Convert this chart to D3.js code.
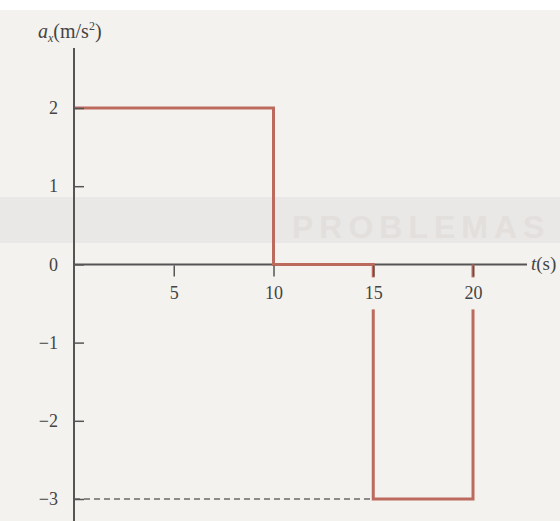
<!DOCTYPE html>
<html>
<head>
<meta charset="utf-8">
<script src="https://cdn.jsdelivr.net/npm/d3@7"></script>
<style>
  html, body { margin: 0; padding: 0; background: #ffffff; }
  svg { display: block; }
  text { font-family: "Liberation Serif", "DejaVu Serif", serif; fill: #444; }
</style>
</head>
<body>
<div id="chart"></div>
<script>
// Acceleration a_x(t): piecewise constant, level holds from each time to the next
const stepTimes  = [0, 10, 15, 20];
const stepValues = [2, 0, -3, 0];

// Axis ticks and labels
const xTicks = [5, 10, 15, 20];
const yTicks = [2, 1, 0, -1, -2, -3];
const yTickLabels = ["2", "1", "0", "\u22121", "\u22122", "\u22123"];

// Reference level marked with a dashed guide
const guideValue = -3;
const guideEnd = 15;

const W = 560, H = 521;
const pageColor = "#f4f2ef";

const svg = d3.select("#chart").append("svg")
  .attr("width", W).attr("height", H);

// page background
svg.append("rect").attr("x", 0).attr("y", 10).attr("width", W).attr("height", H - 10)
  .attr("fill", pageColor);
svg.append("rect").attr("x", 0).attr("y", 197).attr("width", W).attr("height", 46)
  .attr("fill", "#eae8e6");
svg.append("text").attr("x", 292).attr("y", 238)
  .style("font-family", "Liberation Sans, sans-serif").style("font-weight", "bold")
  .style("font-size", "32px").style("letter-spacing", "6px").style("fill", "#e2dfdd")
  .text("PROBLEMAS");

const x = d3.scaleLinear().domain([0, 20]).range([74, 473]);
const y = d3.scaleLinear().domain([-3, 2]).range([499, 108]);

const axisColor = "#555";

// dashed guide at a = -3
svg.append("line")
  .attr("x1", x(0)).attr("x2", x(guideEnd))
  .attr("y1", y(guideValue)).attr("y2", y(guideValue))
  .attr("stroke", "#6a6a6a").attr("stroke-width", 1.5)
  .attr("stroke-dasharray", "6,4");

// horizontal axis line (under the curve)
svg.append("line").attr("x1", x(0)).attr("x2", 527).attr("y1", y(0)).attr("y2", y(0))
  .attr("stroke", axisColor).attr("stroke-width", 2);

// step curve
const line = d3.line()
  .x((d, i) => x(stepTimes[i]))
  .y(d => y(d))
  .curve(d3.curveStepAfter);
svg.append("path")
  .datum(stepValues)
  .attr("d", line)
  .attr("fill", "none")
  .attr("stroke", "#bd6a5e")
  .attr("stroke-width", 3);

// x ticks; labels sit on a small clearing so the curve breaks around them
const gx = svg.append("g").attr("transform", `translate(0,${y(0) + 1})`);
gx.call(d3.axisBottom(x).tickValues(xTicks).tickSize(11).tickPadding(10))
  .call(g => g.select(".domain").remove())
  .call(g => g.selectAll(".tick line").attr("stroke", axisColor).attr("stroke-width", 1.5))
  .call(g => g.selectAll(".tick").insert("rect", "text")
    .attr("x", -13).attr("y", 12).attr("width", 26).attr("height", 32)
    .attr("fill", pageColor))
  .call(g => g.selectAll(".tick text").style("font-size", "18px").attr("fill", "#444")
    .style("font-family", "Liberation Serif, serif"));

// y axis
const gy = svg.append("g").attr("transform", `translate(${x(0)},0)`);
gy.append("line").attr("x1", 0).attr("x2", 0).attr("y1", 48).attr("y2", H)
  .attr("stroke", axisColor).attr("stroke-width", 2);
gy.call(d3.axisLeft(y).tickValues(yTicks).tickSize(-10).tickPadding(16)
    .tickFormat((d, i) => yTickLabels[i]))
  .call(g => g.select(".domain").remove())
  .call(g => g.selectAll(".tick line").attr("stroke", axisColor).attr("stroke-width", 1.5))
  .call(g => g.selectAll(".tick text").style("font-size", "18px").attr("fill", "#444")
    .style("font-family", "Liberation Serif, serif"));

// axis titles
const yTitle = svg.append("text").attr("x", 38).attr("y", 38)
  .style("font-size", "20px");
yTitle.append("tspan").style("font-style", "italic").text("a");
yTitle.append("tspan").attr("dy", 4).style("font-size", "12px").style("font-style", "italic").text("x");
yTitle.append("tspan").attr("dy", -4).text("(m/s");
yTitle.append("tspan").attr("dy", -8).style("font-size", "12px").text("2");
yTitle.append("tspan").attr("dy", 8).text(")");

const xTitle = svg.append("text").attr("x", 531).attr("y", y(0) + 6)
  .style("font-size", "19px");
xTitle.append("tspan").style("font-style", "italic").text("t");
xTitle.append("tspan").text("(s)");
</script>
</body>
</html>
